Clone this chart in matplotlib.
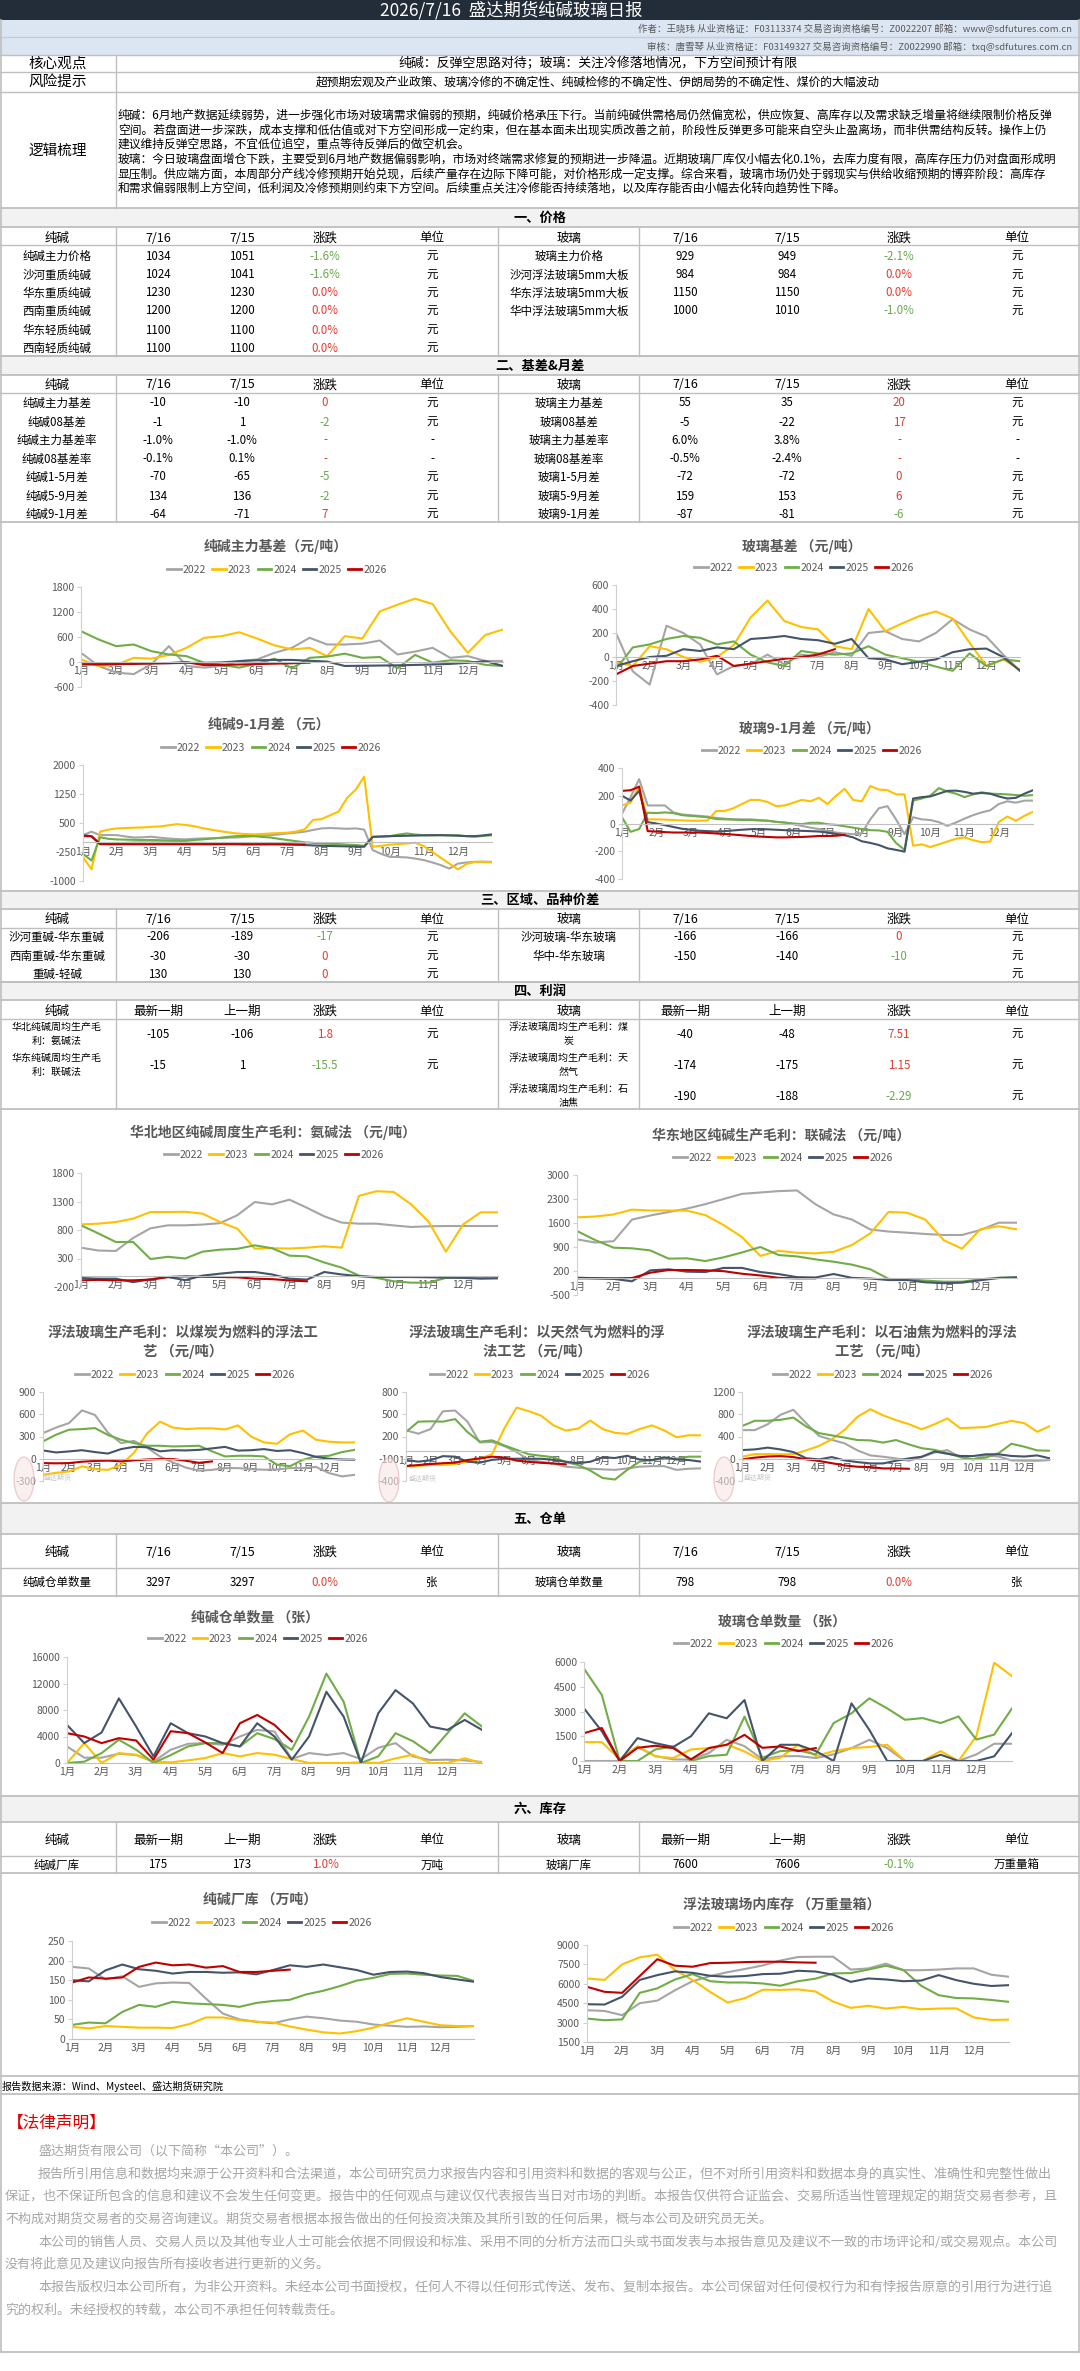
import numpy as np
import matplotlib
matplotlib.use('Agg')
import matplotlib.pyplot as plt
from matplotlib.lines import Line2D
from matplotlib.patches import Rectangle, Circle

plt.rcParams['font.family'] = ['Noto Sans CJK SC', 'DejaVu Sans']
plt.rcParams['axes.unicode_minus'] = False

# ---------------- data ----------------
YEARS = ['2022', '2023', '2024', '2025', '2026']
COLORS = ['#a5a5a5', '#ffc000', '#70ad47', '#44546a', '#c00000']
MONTHS = ['%d月' % i for i in range(1, 13)]

# 纯碱主力基差 (half-month steps)
soda_basis_22 = [220, -95, -255, -290, -55, 380, -95, -135, -95, 25, 60, 220, 340, 580, 420, 420, 440, 515, 180, 250, 340, 100, 140, 25, 25]
soda_basis_23 = [60, -95, -70, 100, 80, 170, 340, 580, 620, 715, 565, 400, 300, 340, 140, 620, 565, 1215, 1375, 1520, 1390, 740, 220, 650, 780]
soda_basis_24 = [740, 540, 380, 420, 260, 180, 140, -20, -70, -135, -40, 80, -150, 100, 130, 200, 100, 120, -150, 170, -15, 40, 25, -70, -95]
soda_basis_25 = [-30, -40, -40, -40, -30, -30, -20, -20, -10, 20, 40, 50, 50, 30, 10, -95, -90, -85, -80, -70, -60, -45, -20, 20, -95]
soda_basis_26 = [-60, -60, -50, -45, -35, -25, -5, -75, -70, -60, -50, -40, -30, -15]

# 玻璃基差
glass_basis_22 = [200, -120, -230, 260, 200, 105, -145, -75, -60, 20, -60, 20, 0, 40, 10, 200, 215, 150, 130, 200, 315, 230, 170, 20, -115]
glass_basis_23 = [-45, -75, 90, 65, 0, -40, 0, 100, 330, 470, 300, 250, 230, 90, 65, 400, 215, 280, 340, 380, 320, 120, -75, -20, -105]
glass_basis_24 = [-100, 80, 105, 150, 175, 160, 105, 130, 20, -45, -75, 50, 30, 20, 30, 90, 20, -10, -40, -80, -115, 30, -75, -20, -35]
glass_basis_25 = [-75, -35, 0, 10, 65, 50, 80, 65, 150, 160, 175, 150, 140, 110, 150, -10, -20, -60, -40, -20, 40, 65, 70, 0, -115]
glass_basis_26 = [-145, -75, -55, -35, -35, -20, 10, -75, -55, -35, -15, 0, 20, 65]

# 纯碱9-1月差 (quarter-month steps)
soda_spread_22 = [185, 275, 185, 190, 185, 150, 125, 130, 145, 120, 100, 85, 75, 90, 100, 105, 110, 120, 125, 140,
                  160, 175, 185, 205, 230, 250, 275, 320, 360, 370, 360, 350, 360, 330, -200, -300, -375, -380, -390, -420,
                  -460, -520, -590, -680, -550, -520, -505, -500, -505]
soda_spread_23 = [-380, -700, 275, 330, 360, 370, 380, 385, 400, 410, 440, 470, 450, 420, 370, 330, 290, 260, 230, 215,
                  205, 215, 230, 240, 250, 280, 335, 580, 600, 700, 795, 1150, 1360, 1700, -115, -90, -60, -45, -30, -10,
                  -100, -245, -400, -550, -700, -560, -505, -505, -520]
soda_spread_24 = [-300, -470, 130, 90, 75, 70, 65, 60, 60, 55, 50, 45, 40, 60, 75, 95, 115, 140, 160, 165,
                  160, 140, 125, 90, 60, 30, 0, -15, -30, -40, -45, -60, -70, -90, 145, 150, 160, 200, 230, 200,
                  185, 180, 185, 180, 185, 160, 145, 165, 185]
soda_spread_25 = [185, 160, -45, -30, -20, -15, -10, -10, -10, -10, -10, -10, -15, -15, -15, -20, -20, -20, -20, -20,
                  -25, -25, -30, -40, -50, -60, -70, -80, -90, -95, -100, -105, -110, -115, 140, 150, 160, 165, 170, 175,
                  180, 185, 185, 180, 170, 160, 160, 180, 205]
soda_spread_26 = [160, 155, -45, -50, -50, -48, -50, -50, -52, -50, -50, -50, -52, -50, -50, -52, -50, -50, -50, -55,
                  -55, -55, -53, -55, -55, -55, -55]

# 玻璃9-1月差
glass_spread_22 = [70, 190, 320, 130, 130, 130, 80, 65, 60, 55, 50, 40, 35, 30, 30, 30, 25, 20, 12, 7,
                   -5, -17, -30, -40, -55, -65, -72, -77, -70, 30, 110, 125, 30, -77, 45, 30, 25, 10, -17, 7,
                   35, 60, 80, 95, 140, 160, 150, 165, 165]
glass_spread_23 = [130, 150, 270, 30, 30, 28, 25, 22, 20, 20, 22, 90, 90, 110, 140, 170, 170, 155, 125, 130,
                   150, 170, 160, 185, 140, 200, 250, 170, 160, 270, 245, 240, 210, 210, -160, -150, -170, -150, -130, -110,
                   -100, -120, -135, -130, 10, 50, 20, 55, 85]
glass_spread_24 = [45, -60, -40, 78, 75, 80, 75, 60, 55, 50, 45, 32, 30, 28, 25, 25, 22, 20, 12, 7,
                   0, -5, 5, 5, -5, -10, -20, -30, -40, -48, -50, -60, -140, -190, 165, 180, 200, 255, 230, 215,
                   190, 210, 225, 215, 213, 210, 205, 200, 205]
glass_spread_25 = [200, 165, 235, 10, 0, -12, -25, -38, -45, -52, -55, -58, -55, -50, -45, -41, -41, -42, -45, -48,
                   -50, -53, -55, -58, -65, -75, -85, -100, -128, -140, -155, -179, -190, -203, 180, 190, 195, 215, 235, 237,
                   228, 215, 220, 215, 195, 180, 185, 215, 240]
glass_spread_26 = [235, 240, 265, -55, -58, -62, -65, -65, -65, -65, -68, -72, -76, -80, -85, -90, -94, -97, -100, -100,
                   -98, -97, -94, -90, -90, -88, -82]

# 华北纯碱周度生产毛利：氨碱法
north_profit_22 = [490, 440, 432, 660, 830, 882, 882, 895, 920, 1060, 1291, 1250, 1332, 1190, 1040, 930, 911, 911, 880, 853, 865, 870, 870, 870, 870]
north_profit_23 = [899, 911, 940, 999, 1116, 1116, 1120, 1087, 940, 823, 473, 480, 475, 490, 515, 490, 1400, 1480, 1467, 1250, 950, 420, 900, 1110, 1110]
north_profit_24 = [882, 740, 590, 590, 290, 330, 300, 420, 455, 470, 531, 480, 350, 338, 230, 140, 0, -40, -100, -124, -124, -40, -36, -40, -42]
north_profit_25 = [-42, -54, -54, -115, -65, -25, -80, 0, 34, 63, 63, 20, -54, -70, 63, 20, -10, -25, -25, -25, -30, -36, -40, -54, -48]
north_profit_26 = [-83, -75, -83, -83, -70, -25, -13, -20, -25, -30, -54, -62, -85, -100]

# 华东纯碱生产毛利：联碱法
east_profit_22 = [1123, 1030, 1070, 1700, 1820, 1920, 2020, 2150, 2300, 2450, 2490, 2530, 2550, 2150, 1850, 1700, 1410, 1350, 1318, 1280, 1250, 1250, 1395, 1609, 1609]
east_profit_23 = [1765, 1790, 1850, 1990, 1965, 1965, 1960, 1830, 1540, 1190, 640, 790, 730, 715, 760, 960, 1298, 1925, 1900, 1700, 1100, 850, 1420, 1505, 1415]
east_profit_24 = [1366, 1100, 880, 861, 800, 560, 570, 490, 600, 740, 900, 666, 625, 540, 470, 385, 250, -30, -43, -80, -111, -111, -43, 5, 15]
east_profit_25 = [5, -10, -30, -100, 220, 248, 180, 170, 290, 290, 170, 110, 20, 10, 112, 0, -20, -63, -63, -130, -155, -140, -70, -5, 15]
east_profit_26 = [-14, -14, -14, -5, 150, 229, 229, 220, 195, 120, 70, 0, -14, -14]

# 浮法玻璃生产毛利：煤炭 / 天然气 / 石油焦
coal_profit_22 = [346, 420, 481, 652, 590, 350, 211, 240, 150, 30, -50, -120, -160, -150, -126, -126, -140, -148, -145, -126, -126, -110, -193, -238, -216]
coal_profit_23 = [-216, -190, -171, -103, -140, -150, -81, 80, 340, 500, 420, 400, 410, 410, 395, 450, 300, 220, 202, 330, 380, 256, 230, 220, 220]
coal_profit_24 = [234, 324, 391, 400, 413, 320, 256, 211, 175, 175, 166, 170, 175, 100, 31, 40, 40, 31, -80, -100, -13, 31, 40, 90, 121]
coal_profit_25 = [112, 85, 99, 115, 90, 70, 130, 160, 155, 100, 115, 112, 120, 140, 160, 110, 115, 130, 105, 115, 76, 25, 0, -10, -13]
coal_profit_26 = [-58, -62, -58, -40, -30, -25, -35, -22, -10, -4, -5, -27, -55, -36]

gas_profit_22 = [283, 238, 300, 540, 550, 400, 120, 126, 70, -9, -117, -140, -165, -207, -220, -235, -243, -250, -230, -207, -200, -200, -250, -235, -229]
gas_profit_23 = [-207, -195, -184, -184, -170, -139, -100, -40, 310, 590, 540, 480, 350, 280, 306, 415, 300, 250, 235, 300, 350, 283, 190, 216, 216]
gas_profit_24 = [261, 400, 405, 400, 435, 260, 130, 148, 80, 20, -40, -60, -80, -145, -184, -260, -360, -380, -250, -139, -115, -100, -100, -72, -72]
gas_profit_25 = [-117, -139, -120, -65, -72, -140, -153, -115, -100, -100, -100, -100, -115, -140, -160, -140, -80, -90, -60, -110, -120, -80, -110, -117, -139]
gas_profit_26 = [-198, -185, -171, -160, -153, -117, -96, -72, -85, -125, -142, -155, -164, -175]

coke_profit_22 = [515, 515, 620, 790, 880, 640, 410, 340, 276, 150, 60, 36, 6, -36, 30, 110, 156, 30, -10, 60, 40, -30, -36, -36, -24]
coke_profit_23 = [36, 84, 84, 80, 84, 150, 230, 350, 520, 755, 890, 780, 695, 623, 530, 620, 725, 550, 560, 570, 630, 680, 640, 485, 587]
coke_profit_24 = [587, 683, 683, 700, 740, 580, 460, 420, 380, 336, 330, 290, 336, 258, 190, 160, 100, 30, -10, 20, 100, 270, 216, 150, 144]
coke_profit_25 = [156, 168, 200, 168, 120, 10, -12, 30, -30, -60, -84, -84, -36, 6, 36, 130, 90, 50, 48, 80, 80, 50, 40, 60, 6]
coke_profit_26 = [-12, 20, 40, 48, 30, -10, -40, -80, -120, -144, -150, -174, -174, -180]

# 仓单
soda_wh_22 = [2500, 800, 800, 1400, 1200, 200, 2000, 2900, 3000, 2750, 4000, 5000, 4750, 600, 1500, 1200, 1500, 600, 2300, 3000, 1000, 450, 500, 400, 150]
soda_wh_23 = [0, 3000, 0, 1500, 1250, 200, 100, 400, 750, 1500, 1000, 1500, 1250, 600, 0, 0, 0, 100, 0, 700, 1250, 0, 0, 700, 0]
soda_wh_24 = [0, 200, 1500, 3500, 2000, 0, 1200, 2500, 3000, 3000, 2500, 4500, 3600, 2000, 7000, 13500, 9250, 0, 1000, 4500, 3300, 1500, 4500, 7500, 5500]
soda_wh_25 = [5750, 3000, 4600, 9750, 5500, 1000, 6000, 4500, 4000, 3000, 2500, 6000, 4000, 500, 4000, 10750, 7000, 0, 7500, 11000, 9000, 5500, 5000, 6500, 5000]
soda_wh_26 = [4500, 4000, 3000, 3750, 3400, 500, 4800, 4500, 3100, 1500, 6000, 7250, 5750, 3250]

glass_wh_22 = [0, 0, 0, 850, 300, 100, 80, 480, 1285, 900, 100, 281, 300, 180, 400, 783, 1285, 783, 0, 0, 0, 0, 400, 1044, 1044]
glass_wh_23 = [1144, 1144, 100, 900, 281, 180, 700, 783, 1000, 582, 0, 200, 983, 300, 600, 783, 850, 983, 0, 0, 600, 0, 1500, 5960, 5138]
glass_wh_24 = [5600, 4000, 0, 0, 700, 880, 0, 300, 380, 2689, 200, 600, 650, 400, 2300, 2890, 3800, 3191, 2500, 2600, 2300, 2700, 1300, 1600, 3191]
glass_wh_25 = [3191, 1800, 0, 1385, 1084, 850, 1500, 2890, 2589, 3693, 0, 983, 983, 600, 0, 3493, 1887, 0, 0, 0, 381, 0, 0, 281, 1686]
glass_wh_26 = [1686, 2000, 0, 800, 923, 783, 100, 783, 983, 1585, 800, 883, 600, 783]

# 库存
soda_inv_22 = [184, 180, 152, 160, 133, 142, 144, 143, 103, 65, 50, 44, 40, 50, 57, 53, 47, 44, 37, 34, 31, 32, 30, 31, 33]
soda_inv_23 = [31, 27, 33, 31, 29, 29, 28, 38, 55, 55, 48, 44, 42, 32, 24, 17, 14, 20, 29, 42, 53, 44, 35, 33, 33]
soda_inv_24 = [36, 42, 40, 69, 87, 82, 95, 91, 89, 87, 82, 92, 97, 100, 114, 123, 135, 149, 156, 166, 167, 164, 162, 161, 148]
soda_inv_25 = [150, 147, 175, 190, 178, 174, 167, 171, 171, 169, 170, 165, 176, 188, 184, 190, 183, 176, 164, 171, 172, 168, 158, 152, 146]
soda_inv_26 = [144, 157, 154, 157, 184, 195, 188, 190, 182, 186, 171, 171, 174, 177]

glass_inv_22 = [3957, 3900, 3570, 4500, 4700, 5500, 6200, 6594, 6900, 7150, 7420, 7800, 8070, 8094, 8094, 7100, 7189, 7560, 7060, 7050, 7100, 7189, 7189, 6700, 6543]
glass_inv_23 = [6413, 6300, 7500, 8050, 8250, 7060, 6300, 5379, 4550, 4900, 5540, 5530, 5570, 5400, 4620, 4138, 4300, 4086, 4215, 4030, 4086, 4100, 3400, 3200, 3233]
glass_inv_24 = [3310, 3181, 3250, 5300, 5650, 6330, 6750, 6200, 6100, 6100, 6025, 5850, 6200, 6400, 6800, 6830, 7100, 7400, 7060, 5850, 5120, 4900, 4870, 4750, 4603]
glass_inv_25 = [4422, 4396, 5000, 6300, 6672, 6960, 6850, 6620, 6543, 6600, 6750, 6780, 7008, 6950, 6700, 6150, 6413, 6336, 6200, 6250, 6672, 6284, 6000, 5830, 5896]
glass_inv_26 = [5767, 5379, 5301, 6600, 7900, 7400, 7319, 7600, 7629, 7680, 7706, 7706, 7655, 7629]

# tables
head_day = ['7/16', '7/15', '涨跌', '单位']
head_week = ['最新一期', '上一期', '涨跌', '单位']
price_soda = [['纯碱主力价格', '1034', '1051', '-1.6%', '元'],
              ['沙河重质纯碱', '1024', '1041', '-1.6%', '元'],
              ['华东重质纯碱', '1230', '1230', '0.0%', '元'],
              ['西南重质纯碱', '1200', '1200', '0.0%', '元'],
              ['华东轻质纯碱', '1100', '1100', '0.0%', '元'],
              ['西南轻质纯碱', '1100', '1100', '0.0%', '元']]
price_glass = [['玻璃主力价格', '929', '949', '-2.1%', '元'],
               ['沙河浮法玻璃5mm大板', '984', '984', '0.0%', '元'],
               ['华东浮法玻璃5mm大板', '1150', '1150', '0.0%', '元'],
               ['华中浮法玻璃5mm大板', '1000', '1010', '-1.0%', '元']]
basis_soda = [['纯碱主力基差', '-10', '-10', '0', '元'],
              ['纯碱08基差', '-1', '1', '-2', '元'],
              ['纯碱主力基差率', '-1.0%', '-1.0%', '-', '-'],
              ['纯碱08基差率', '-0.1%', '0.1%', '-', '-'],
              ['纯碱1-5月差', '-70', '-65', '-5', '元'],
              ['纯碱5-9月差', '134', '136', '-2', '元'],
              ['纯碱9-1月差', '-64', '-71', '7', '元']]
basis_glass = [['玻璃主力基差', '55', '35', '20', '元'],
               ['玻璃08基差', '-5', '-22', '17', '元'],
               ['玻璃主力基差率', '6.0%', '3.8%', '-', '-'],
               ['玻璃08基差率', '-0.5%', '-2.4%', '-', '-'],
               ['玻璃1-5月差', '-72', '-72', '0', '元'],
               ['玻璃5-9月差', '159', '153', '6', '元'],
               ['玻璃9-1月差', '-87', '-81', '-6', '元']]
region_soda = [['沙河重碱-华东重碱', '-206', '-189', '-17', '元'],
               ['西南重碱-华东重碱', '-30', '-30', '0', '元'],
               ['重碱-轻碱', '130', '130', '0', '元']]
region_glass = [['沙河玻璃-华东玻璃', '-166', '-166', '0', '元'],
                ['华中-华东玻璃', '-150', '-140', '-10', '元'],
                ['', '', '', '', '元']]
profit_soda = [['华北纯碱周均生产毛\n利：氨碱法', '-105', '-106', '1.8', '元'],
               ['华东纯碱周均生产毛\n利：联碱法', '-15', '1', '-15.5', '元']]
profit_glass = [['浮法玻璃周均生产毛利：煤\n炭', '-40', '-48', '7.51', '元'],
                ['浮法玻璃周均生产毛利：天\n然气', '-174', '-175', '1.15', '元'],
                ['浮法玻璃周均生产毛利：石\n油焦', '-190', '-188', '-2.29', '元']]
wh_soda = [['纯碱仓单数量', '3297', '3297', '0.0%', '张']]
wh_glass = [['玻璃仓单数量', '798', '798', '0.0%', '张']]
inv_soda = [['纯碱厂库', '175', '173', '1.0%', '万吨']]
inv_glass = [['玻璃厂库', '7600', '7606', '-0.1%', '万重量箱']]

logic_lines = [
    '纯碱：6月地产数据延续弱势，进一步强化市场对玻璃需求偏弱的预期，纯碱价格承压下行。当前纯碱供需格局仍然偏宽松，供应恢复、高库存以及需求缺乏增量将继续限制价格反弹',
    '空间。若盘面进一步深跌，成本支撑和低估值或对下方空间形成一定约束，但在基本面未出现实质改善之前，阶段性反弹更多可能来自空头止盈离场，而非供需结构反转。操作上仍',
    '建议维持反弹空思路，不宜低位追空，重点等待反弹后的做空机会。',
    '玻璃：今日玻璃盘面增仓下跌，主要受到6月地产数据偏弱影响，市场对终端需求修复的预期进一步降温。近期玻璃厂库仅小幅去化0.1%，去库力度有限，高库存压力仍对盘面形成明',
    '显压制。供应端方面，本周部分产线冷修预期开始兑现，后续产量存在边际下降可能，对价格形成一定支撑。综合来看，玻璃市场仍处于弱现实与供给收缩预期的博弈阶段：高库存',
    '和需求偏弱限制上方空间，低利润及冷修预期则约束下方空间。后续重点关注冷修能否持续落地，以及库存能否由小幅去化转向趋势性下降。',
]
legal_lines = [
    (38, '盛达期货有限公司（以下简称“本公司”）。'),
    (38, '报告所引用信息和数据均来源于公开资料和合法渠道，本公司研究员力求报告内容和引用资料和数据的客观与公正，但不对所引用资料和数据本身的真实性、准确性和完整性做出'),
    (5, '保证，也不保证所包含的信息和建议不会发生任何变更。报告中的任何观点与建议仅代表报告当日对市场的判断。本报告仅供符合证监会、交易所适当性管理规定的期货交易者参考，且'),
    (5, '不构成对期货交易者的交易咨询建议。期货交易者根据本报告做出的任何投资决策及其所引致的任何后果，概与本公司及研究员无关。'),
    (38, '本公司的销售人员、交易人员以及其他专业人士可能会依据不同假设和标准、采用不同的分析方法而口头或书面发表与本报告意见及建议不一致的市场评论和/或交易观点。本公司'),
    (5, '没有将此意见及建议向报告所有接收者进行更新的义务。'),
    (38, '本报告版权归本公司所有，为非公开资料。未经本公司书面授权，任何人不得以任何形式传送、发布、复制本报告。本公司保留对任何侵权行为和有悖报告原意的引用行为进行追'),
    (5, '究的权利。未经授权的转载，本公司不承担任何转载责任。'),
]

# ---------------- drawing helpers ----------------
W, H = 1080, 2371
GRID = '#bfbfbf'
TXT = '#595959'
RED = '#e03c31'
GREEN = '#6aa84f'

fig = plt.figure(figsize=(W / 100, H / 100), dpi=100)


def fx(x):
    return x / W


def fy(y):
    return 1 - y / H


def text(x, y, s, size=8.3, color='black', ha='center', weight='normal', **kw):
    fig.text(fx(x), fy(y), s, fontsize=size, color=color, ha=ha, va='center',
             fontweight=weight, **kw)


def hline(y, x0=0, x1=W, color=GRID, lw=1.3):
    fig.add_artist(Line2D([fx(x0), fx(x1)], [fy(y), fy(y)], color=color, lw=lw,
                          transform=fig.transFigure))


def vline(x, y0, y1, color=GRID, lw=1.0):
    fig.add_artist(Line2D([fx(x), fx(x)], [fy(y0), fy(y1)], color=color, lw=lw,
                          transform=fig.transFigure))


def box(x0, y0, x1, y1, color):
    fig.add_artist(Rectangle((fx(x0), fy(y1)), (x1 - x0) / W, (y1 - y0) / H,
                             transform=fig.transFigure, facecolor=color,
                             edgecolor='none', zorder=0))


def section(y0, y1, title):
    box(0, y0, W, y1, '#f2f2f2')
    hline(y0)
    hline(y1)
    text(540, (y0 + y1) / 2, title, size=9.5, weight='bold')


SODA_X = [57, 158, 242, 325, 432]
GLASS_X = [569, 685, 787, 899, 1017]


def cell_color(s, col):
    if col != 3:
        return 'black'
    if s.startswith('-') and len(s) > 1:
        return GREEN
    return RED


def table(top, head_y, head_bottom, row_ys, bottom, heads, soda_rows, glass_rows, size=8.3, label_size=8.3):
    text(SODA_X[0], head_y, '纯碱', size=9)
    text(GLASS_X[0], head_y, '玻璃', size=9)
    for i, h in enumerate(heads):
        text(SODA_X[i + 1], head_y, h, size=9)
        text(GLASS_X[i + 1], head_y, h, size=9)
    hline(head_bottom, lw=1.0)
    for rows, xs in ((soda_rows, SODA_X), (glass_rows, GLASS_X)):
        for r, y in zip(rows, row_ys):
            for j, s in enumerate(r):
                text(xs[j], y, s, size=label_size if j == 0 else size,
                     color=cell_color(s, j), linespacing=1.5)
    for x in (116, 498, 639):
        vline(x, top, bottom)
    hline(bottom)


def chart(box_px, ylim, yticks, series, step, title, title_xy, legend_xy, title_size=10):
    x0, y0, x1, y1 = box_px
    ax = fig.add_axes([fx(x0), fy(y1), (x1 - x0) / W, (y1 - y0) / H])
    ax.patch.set_alpha(0)
    for vals, c in zip(series, COLORS):
        xs = np.arange(len(vals)) * step
        ax.plot(xs, vals, color=c, lw=1.5, solid_joinstyle='round')
    ax.set_xlim(0, 12)
    ax.set_ylim(*ylim)
    ax.set_yticks(yticks)
    ax.set_yticklabels([str(v) for v in yticks])
    ax.set_xticks(range(12))
    ax.set_xticklabels(MONTHS)
    for s in ('top', 'right'):
        ax.spines[s].set_visible(False)
    ax.spines['left'].set_color('#d0d0d0')
    ax.spines['bottom'].set_color(GRID)
    ax.spines['bottom'].set_position(('data', max(ylim[0], 0)))
    ax.tick_params(axis='x', length=0, pad=3, labelsize=7.5, labelcolor=TXT)
    ax.tick_params(axis='y', length=3, width=0.8, color='#d0d0d0', labelsize=7.5,
                   labelcolor=TXT, pad=2)
    text(title_xy[0], title_xy[1], title, size=title_size, color=TXT, weight='bold',
         linespacing=1.35)
    handles = [Line2D([0], [0], color=c, lw=2) for c in COLORS]
    fig.legend(handles, YEARS, loc='center', bbox_to_anchor=(fx(legend_xy[0]), fy(legend_xy[1])),
               ncol=5, frameon=False, fontsize=7.5, handlelength=1.3, handletextpad=0.2,
               columnspacing=0.6, labelcolor=TXT, borderpad=0)
    return ax


def watermark(x, y):
    fig.add_artist(Circle((fx(x), fy(y)), 10 / W, transform=fig.transFigure,
                          facecolor='#f7e6e6', edgecolor='#e3b3b3', lw=1.0, alpha=0.6))
    text(x + 34, y - 2, '盛达期货', size=5, color='#c8c8c8')


# ---------------- header ----------------
box(0, 0, W, 20, '#232c39')
text(511, 10, '2026/7/16  盛达期货纯碱玻璃日报', size=12.5, color='white')
box(0, 20, W, 55, '#dce6f2')
hline(37, color='#c8ccd2', lw=1)
hline(55, lw=1)
text(1072, 29, '作者：王晓玮 从业资格证：F03113374 交易咨询资格编号：Z0022207 邮箱：www@sdfutures.com.cn',
     size=6.8, color=TXT, ha='right')
text(1072, 47, '审核：唐雪琴 从业资格证：F03149327 交易咨询资格编号：Z0022990 邮箱：txq@sdfutures.com.cn',
     size=6.8, color=TXT, ha='right')

text(58, 63.5, '核心观点', size=10.5)
text(598, 63.5, '纯碱：反弹空思路对待；玻璃：关注冷修落地情况，下方空间预计有限', size=9.3)
hline(72, lw=1)
text(58, 82, '风险提示', size=10.5)
text(598, 82, '超预期宏观及产业政策、玻璃冷修的不确定性、纯碱检修的不确定性、伊朗局势的不确定性、煤价的大幅波动', size=8.5)
hline(92, lw=1)
text(58, 151, '逻辑梳理', size=10.5)
for i, line in enumerate(logic_lines):
    text(118, 115 + i * 14.7, line, size=8.5, ha='left')
vline(116, 55, 208)

# ---------------- tables ----------------
section(208, 227, '一、价格')
table(227, 238, 245, [256, 275, 293, 311, 330, 348], 356, head_day, price_soda, price_glass)

section(356, 375, '二、基差&月差')
table(375, 385, 393, [403, 422, 440, 459, 477, 496, 514], 522, head_day, basis_soda, basis_glass)

# charts: basis
chart((81, 587, 503, 687), (-600, 1800), [-600, 0, 600, 1200, 1800],
      [soda_basis_22, soda_basis_23, soda_basis_24, soda_basis_25, soda_basis_26], 0.5,
      '纯碱主力基差（元/吨）', (276, 546), (277, 570))
chart((616, 585, 1020, 705), (-400, 600), [-400, -200, 0, 200, 400, 600],
      [glass_basis_22, glass_basis_23, glass_basis_24, glass_basis_25, glass_basis_26], 0.5,
      '玻璃基差 （元/吨）', (802, 546), (804, 568))
chart((83, 765, 492, 881), (-1000, 2000), [-1000, -250, 500, 1250, 2000],
      [soda_spread_22, soda_spread_23, soda_spread_24, soda_spread_25, soda_spread_26], 0.25,
      '纯碱9-1月差 （元）', (269, 725), (271, 748))
chart((622, 768, 1033, 879), (-400, 400), [-400, -200, 0, 200, 400],
      [glass_spread_22, glass_spread_23, glass_spread_24, glass_spread_25, glass_spread_26], 0.25,
      '玻璃9-1月差 （元/吨）', (809, 728), (812, 751))

section(891, 909, '三、区域、品种价差')
table(909, 919, 928, [937, 956, 974], 982, head_day, region_soda, region_glass)

section(982, 1000, '四、利润')
table(1000, 1011, 1019, [1034, 1065, 1096], 1109, head_week, profit_soda, profit_glass,
      label_size=7.2)

chart((81, 1173, 498, 1287), (-200, 1800), [-200, 300, 800, 1300, 1800],
      [north_profit_22, north_profit_23, north_profit_24, north_profit_25, north_profit_26], 0.5,
      '华北地区纯碱周度生产毛利：氨碱法 （元/吨）', (273, 1132), (274, 1155))
chart((577, 1175, 1017, 1295), (-500, 3000), [-500, 200, 900, 1600, 2300, 3000],
      [east_profit_22, east_profit_23, east_profit_24, east_profit_25, east_profit_26], 0.5,
      '华东地区纯碱生产毛利：联碱法 （元/吨）', (781, 1135), (783, 1158))

chart((43, 1392, 355, 1481), (-300, 900), [-300, 0, 300, 600, 900],
      [coal_profit_22, coal_profit_23, coal_profit_24, coal_profit_25, coal_profit_26], 0.5,
      '浮法玻璃生产毛利：以煤炭为燃料的浮法工\n艺 （元/吨）', (183, 1342), (185, 1375), title_size=10.3)
chart((406, 1392, 701, 1481), (-400, 800), [-400, -100, 200, 500, 800],
      [gas_profit_22, gas_profit_23, gas_profit_24, gas_profit_25, gas_profit_26], 0.5,
      '浮法玻璃生产毛利：以天然气为燃料的浮\n法工艺 （元/吨）', (537, 1342), (540, 1375), title_size=10.3)
chart((742, 1392, 1050, 1481), (-400, 1200), [-400, 0, 400, 800, 1200],
      [coke_profit_22, coke_profit_23, coke_profit_24, coke_profit_25, coke_profit_26], 0.5,
      '浮法玻璃生产毛利：以石油焦为燃料的浮法\n工艺 （元/吨）', (882, 1342), (883, 1375), title_size=10.3)
watermark(24, 1479)
watermark(389, 1480)
watermark(724, 1479)

section(1503, 1534, '五、仓单')
table(1534, 1552, 1568, [1582], 1596, head_day, wh_soda, wh_glass)

chart((67, 1657, 482, 1763), (0, 16000), [0, 4000, 8000, 12000, 16000],
      [soda_wh_22, soda_wh_23, soda_wh_24, soda_wh_25, soda_wh_26], 0.5,
      '纯碱仓单数量 （张）', (255, 1617), (258, 1639))
chart((584, 1662, 1012, 1761), (0, 6000), [0, 1500, 3000, 4500, 6000],
      [glass_wh_22, glass_wh_23, glass_wh_24, glass_wh_25, glass_wh_26], 0.5,
      '玻璃仓单数量 （张）', (782, 1621), (784, 1644))

section(1796, 1822, '六、库存')
table(1822, 1840, 1856, [1865], 1873, head_week, inv_soda, inv_glass)

chart((72, 1941, 474, 2039), (0, 250), [0, 50, 100, 150, 200, 250],
      [soda_inv_22, soda_inv_23, soda_inv_24, soda_inv_25, soda_inv_26], 0.5,
      '纯碱厂库 （万吨）', (260, 1900), (262, 1923))
chart((587, 1945, 1009, 2042), (1500, 9000), [1500, 3000, 4500, 6000, 7500, 9000],
      [glass_inv_22, glass_inv_23, glass_inv_24, glass_inv_25, glass_inv_26], 0.5,
      '浮法玻璃场内库存 （万重量箱）', (782, 1905), (784, 1928))

# ---------------- footer ----------------
hline(2076)
text(2, 2086, '报告数据来源：Wind、Mysteel、盛达期货研究院', size=7.3, ha='left')
hline(2094)
text(7, 2123, '【法律声明】', size=12, color='#e00000', ha='left')
for i, (x, line) in enumerate(legal_lines):
    text(x, 2151 + i * 22.7, line, size=9.4, color='#a6a6a6', ha='left')
hline(2352)

vline(0.5, 20, 2352, lw=1.2)
vline(1079, 20, 2352, lw=1.2)

fig.savefig('out.png', dpi=100)
